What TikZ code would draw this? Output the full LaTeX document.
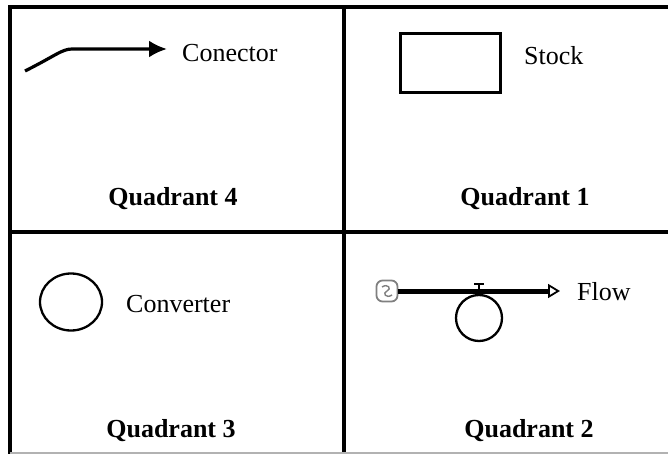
\documentclass[tikz,border=0pt]{standalone}
\usepackage{fontspec}
\setmainfont{Liberation Serif}
\usetikzlibrary{calc, positioning}
\usetikzlibrary{arrows.meta}
\usetikzlibrary{shapes.geometric}

\tikzset{
  label/.style={anchor=base west, inner sep=0pt, font=\fontsize{26}{30}\selectfont},
  quadlabel/.style={anchor=base, inner sep=0pt, font=\fontsize{26}{30}\selectfont\bfseries},
  gridline/.style={line width=3.4pt},
  outline/.style={draw, line width=2.3pt, inner sep=0pt},
  pipe/.style={line width=5pt, -{Triangle[open, length=12pt, width=14pt, line width=1.8pt]}},
}

\begin{document}
\begin{tikzpicture}[x=1pt, y=-1pt]
\useasboundingbox (0,0) rectangle (668,454);
\def\lx{10}
\def\mx{344}
\def\ty{7}
\def\my{232}

% table
\draw[gridline] (668,\ty) -- (\lx,\ty) -- (\lx,454);
\draw[gridline] (\mx,\ty) -- (\mx,454);
\draw[gridline] (\lx,\my) -- (668,\my);
\draw[gray!60, line width=1.5pt] (\lx,453) -- (668,453);

% quadrant 4: connector
\coordinate (conA) at (25,71);
\coordinate (conB) at (72,49);
\coordinate (conC) at (167,49);
\draw[line width=3.2pt, -{Latex[length=18pt, width=17pt]}] (conA) .. controls (55,56) and (62,49) .. (conB) -- (conC);
\node[label] (conector) at (182,62) {Conector};
\node[quadlabel] (q4) at (173,205) {Quadrant 4};

% quadrant 1: stock
\node[outline, minimum width=100pt, minimum height=59pt] (stock) at (450.5,63) {};
\node[label] (stocklbl) at (524,65) {Stock};
\node[quadlabel] (q1) at (525,205) {Quadrant 1};

% quadrant 3: converter
\node[outline, ellipse, minimum width=62pt, minimum height=57pt] (conv) at (71,302) {};
\node[label] (convlbl) at (126,312) {Converter};
\node[quadlabel] (q3) at (171,437) {Quadrant 3};

% quadrant 2: flow
\node[draw=gray, line width=1.8pt, rounded corners=6pt, minimum size=21pt, inner sep=0pt] (cloud) at (387,291) {};
\draw[gray, line width=1.4pt] ($(cloud)+(-5,-4)$) .. controls ($(cloud)+(1,-8)$) and ($(cloud)+(5,-2)$) .. ($(cloud)+(0,0)$)
  .. controls ($(cloud)+(-5,2)$) and ($(cloud)+(-1,8)$) .. ($(cloud)+(5,4)$);
\coordinate (flowend) at (560,291);
\draw[pipe] (cloud.east) -- (flowend);
\node[outline, circle, minimum size=46pt] (valve) at (479,318) {};
\coordinate (valvetop) at (479,284);
\draw[line width=1.8pt] (valve.north) -- (valvetop);
\draw[line width=2.4pt] ($(valvetop)+(-5,0)$) -- ($(valvetop)+(5,0)$);
\node[label] (flowlbl) at (577,300) {Flow};
\node[quadlabel] (q2) at (529,437) {Quadrant 2};
\end{tikzpicture}
\end{document}
